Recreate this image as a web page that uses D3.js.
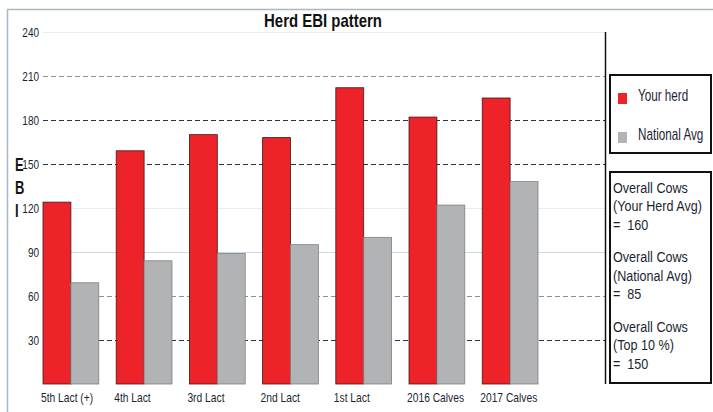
<!DOCTYPE html>
<html>
<head>
<meta charset="utf-8">
<script src="https://cdn.jsdelivr.net/npm/d3@7"></script>
<style>
  body { margin: 0; background: #fff; }
  svg { display: block; font-family: "Liberation Sans", Arial, sans-serif; }
</style>
</head>
<body>
<div id="chart"></div>
<script>
// data
var categories = ['5th Lact (+)', '4th Lact', '3rd Lact', '2nd Lact', '1st Lact', '2016 Calves', '2017 Calves'];
var series = ['Your herd', 'National Avg'];
var yourHerd = [124, 159, 170, 168, 202, 182, 195];
var nationalAvg = [69, 84, 89, 95, 100, 122, 138];
var yTicks = [30, 60, 90, 120, 150, 180, 210, 240];
var yTitle = ['E', 'B', 'I'];
var statLines = [
  ['Overall Cows', '(Your Herd Avg)', '=  160'],
  ['Overall Cows', '(National Avg)', '=  85'],
  ['Overall Cows', '(Top 10 %)', '=  150']
];

var colors = { 'Your herd': '#ee2229', 'National Avg': '#b1b3b5' };
var strokes = { 'Your herd': '#3a1a1a', 'National Avg': '#7d8184' };
var textColor = '#1b1f33';

var width = 713, height = 412;

// the original uses a narrow font; squeeze text horizontally around its own x
function condense(sel, sx) {
  sel.each(function () {
    var t = d3.select(this);
    var x0 = +t.attr('x') || 0;
    t.attr('x', x0 / sx).attr('transform', 'scale(' + sx + ',1)');
  });
}

var svg = d3.select('#chart').append('svg')
  .attr('width', width)
  .attr('height', height);

svg.append('rect').attr('width', width).attr('height', height).attr('fill', '#fff');

// outer frame (top and left only, rest is cut off)
svg.append('path')
  .attr('d', 'M7.5,' + height + 'V9.5H' + width)
  .attr('fill', 'none')
  .attr('stroke', '#a9b7c3')
  .attr('stroke-width', 1.5);

var plotLeft = 43, plotRight = 605;

var y = d3.scaleLinear().domain([0, 240]).range([384, 32]);

var x = d3.scaleBand()
  .domain(categories)
  .range([43, 538])
  .paddingInner(0.238)
  .paddingOuter(0);

var x1 = d3.scaleBand()
  .domain(series)
  .range([0, x.bandwidth()]);

// gridlines - styles vary like the original (some dashed, some faint)
function gridStyle(v) {
  if (v === 180 || v === 150 || v === 30) return { stroke: '#2e3138', dash: '5,3' };
  if (v === 210 || v === 60) return { stroke: '#8795a1', dash: '5,3' };
  if (v === 90) return { stroke: '#c9d8e4', dash: null };
  return { stroke: '#e6ecf0', dash: null };
}

var grid = svg.append('g').attr('class', 'grid');
yTicks.forEach(function (v) {
  var s = gridStyle(v);
  grid.append('line')
    .attr('x1', plotLeft).attr('x2', plotRight)
    .attr('y1', Math.round(y(v)) + 0.5).attr('y2', Math.round(y(v)) + 0.5)
    .attr('stroke', s.stroke)
    .attr('stroke-width', 1)
    .attr('stroke-dasharray', s.dash);
});

// y axis labels, no axis line
var yAxis = d3.axisLeft(y).tickValues(yTicks).tickSize(0).tickPadding(3);
var yg = svg.append('g')
  .attr('transform', 'translate(' + (plotLeft - 1) + ',0)')
  .call(yAxis);
yg.select('.domain').remove();
yg.selectAll('text')
  .attr('fill', textColor)
  .attr('font-size', 12.5)
  .attr('font-family', null);
condense(yg.selectAll('text'), 0.8);

// stacked "EBI" axis title
var yt = svg.append('g').selectAll('text')
  .data(yTitle)
  .enter().append('text')
  .attr('x', 15)
  .attr('y', function (d, i) { return 171 + i * 23; })
  .attr('font-size', 18)
  .attr('font-weight', 'bold')
  .attr('fill', '#151515')
  .text(function (d) { return d; });
condense(yt, 0.72);

// bars
var rows = categories.map(function (c, i) {
  return { cat: c, values: [{ key: 'Your herd', value: yourHerd[i] }, { key: 'National Avg', value: nationalAvg[i] }] };
});

var groups = svg.append('g').selectAll('g.group')
  .data(rows)
  .enter().append('g')
  .attr('class', 'group')
  .attr('transform', function (d) { return 'translate(' + x(d.cat) + ',0)'; });

groups.selectAll('rect')
  .data(function (d) { return d.values; })
  .enter().append('rect')
  .attr('x', function (d) { return x1(d.key); })
  .attr('width', x1.bandwidth())
  .attr('y', function (d) { return y(d.value); })
  .attr('height', function (d) { return y(0) - y(d.value); })
  .attr('fill', function (d) { return colors[d.key]; })
  .attr('stroke', function (d) { return strokes[d.key]; })
  .attr('stroke-width', 0.8);

// x labels
var xAxis = d3.axisBottom(x).tickSize(0).tickPadding(0);
var xg = svg.append('g')
  .attr('transform', 'translate(0,' + 384 + ')')
  .call(xAxis);
xg.select('.domain').remove();
xg.selectAll('text')
  .attr('text-anchor', 'start')
  .attr('x', -x.bandwidth() / 2 - 2)
  .attr('dy', 0)
  .attr('y', 18)
  .attr('fill', textColor)
  .attr('font-size', 13)
  .attr('font-family', null);
condense(xg.selectAll('text'), 0.79);

// right border of plot
svg.append('line')
  .attr('x1', plotRight + 0.5).attr('x2', plotRight + 0.5)
  .attr('y1', 32).attr('y2', 384)
  .attr('stroke', '#111')
  .attr('stroke-width', 1.5);

// title
var title = svg.append('text')
  .attr('x', 323)
  .attr('y', 27)
  .attr('text-anchor', 'middle')
  .attr('font-size', 18)
  .attr('font-weight', 'bold')
  .attr('fill', '#111')
  .text('Herd EBI pattern');
condense(title, 0.83);

// legend
var legend = svg.append('g');
legend.append('rect')
  .attr('x', 610).attr('y', 75)
  .attr('width', 101).attr('height', 78)
  .attr('fill', '#fff')
  .attr('stroke', '#111')
  .attr('stroke-width', 2);

var li = legend.selectAll('g.item')
  .data(series)
  .enter().append('g')
  .attr('class', 'item')
  .attr('transform', function (d, i) { return 'translate(618,' + (93 + i * 39) + ')'; });

li.append('rect')
  .attr('width', 9).attr('height', 11)
  .attr('fill', function (d) { return colors[d]; });

var lt = li.append('text')
  .attr('x', 20)
  .attr('y', 8)
  .attr('font-size', 16)
  .attr('fill', textColor)
  .text(function (d) { return d; });
condense(lt, 0.73);

// stats box
var stats = svg.append('g');
stats.append('rect')
  .attr('x', 610).attr('y', 172)
  .attr('width', 101).attr('height', 211)
  .attr('fill', '#fff')
  .attr('stroke', '#111')
  .attr('stroke-width', 2);

var st = stats.selectAll('text')
  .data(d3.merge(statLines.map(function (lines, b) {
    return lines.map(function (t, i) { return { t: t, b: b, i: i }; });
  })))
  .enter().append('text')
  .attr('x', 613)
  .attr('y', function (d) { return 193 + d.b * 69.5 + d.i * 18.5; })
  .attr('font-size', 15)
  .attr('fill', textColor)
  .style('white-space', 'pre')
  .text(function (d) { return d.t; });
condense(st, 0.84);
</script>
</body>
</html>
